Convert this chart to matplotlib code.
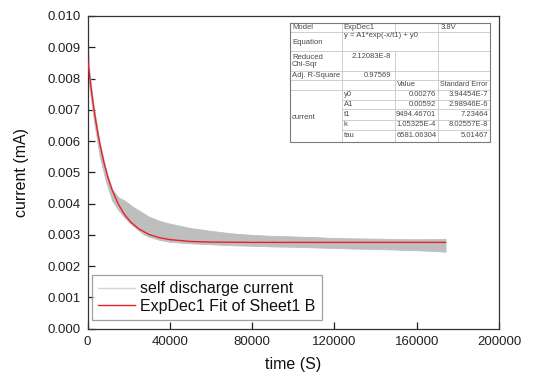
import matplotlib
matplotlib.use("Agg")
import matplotlib.pyplot as plt
from matplotlib.lines import Line2D

plt.rcParams['font.family'] = ['Liberation Sans', 'DejaVu Sans']

# ---- data ----
# measured self-discharge current: band (lower / upper envelope of the noisy trace)
t_data = [0, 500, 1000, 3000, 6000, 9000, 12000, 15000, 18000, 22000, 27000, 30000,
          35000, 40000, 50000, 60000, 70000, 80000, 90000, 100000, 110000, 120000,
          130000, 140000, 150000, 160000, 170000, 174000]
i_low = [0.0086, 0.0080, 0.0077, 0.0067, 0.0055, 0.0047, 0.0041, 0.0038, 0.00355, 0.0033,
         0.00303, 0.00294, 0.00284, 0.00278, 0.00273, 0.00270, 0.00267, 0.00265, 0.00263,
         0.00262, 0.00260, 0.00258, 0.00256, 0.00255, 0.00253, 0.00251, 0.00248, 0.00246]
i_high = [0.0095, 0.0087, 0.0082, 0.00712, 0.00594, 0.00508, 0.00446, 0.0042, 0.0041, 0.0039,
          0.0037, 0.00358, 0.00345, 0.00336, 0.00322, 0.00313, 0.00305, 0.00300, 0.00297,
          0.00295, 0.00293, 0.00290, 0.00289, 0.00288, 0.00287, 0.00286, 0.00287, 0.00287]

# ExpDec1 fit curve
t_fit = [0, 1000, 2000, 3000, 4000, 5000, 6000, 8000, 10000, 12000, 15000, 18000, 21000,
         25000, 30000, 35000, 40000, 50000, 60000, 80000, 100000, 140000, 174000]
i_fit = [0.00866, 0.00809, 0.00756, 0.00708, 0.00665, 0.00626, 0.00591, 0.00531, 0.00482,
         0.00443, 0.00398, 0.00365, 0.00341, 0.00319, 0.00301, 0.00291, 0.00285, 0.00279,
         0.00277, 0.00276, 0.00276, 0.00276, 0.00276]

x_ticks = [0, 40000, 80000, 120000, 160000, 200000]
y_ticks = [0.000, 0.001, 0.002, 0.003, 0.004, 0.005, 0.006, 0.007, 0.008, 0.009, 0.010]

legend_labels = ["self discharge current", "ExpDec1 Fit of Sheet1 B"]

# fit report table
table_rows = [
    ["Model", "ExpDec1", "", "3.8V"],
    ["Equation", "y = A1*exp(-x/t1) + y0", "", ""],
    ["Reduced\nChi-Sqr", "2.12083E-8", "", ""],
    ["Adj. R-Square", "0.97569", "", ""],
    ["", "", "Value", "Standard Error"],
]
param_names = ["y0", "A1", "t1", "k", "tau"]
param_values = ["0.00276", "0.00592", "9494.46701", "1.05325E-4", "6581.06304"]
param_errors = ["3.94454E-7", "2.98946E-6", "7.23464", "8.02557E-8", "5.01467"]
group_label = "current"

# ---- figure ----
W, H = 536, 376
fig = plt.figure(figsize=(W / 100, H / 100), dpi=100)
ax = fig.add_axes([87.5 / W, (H - 328.7) / H, (499 - 87.5) / W, (328.7 - 16) / H])

gray = '#bebebe'
red = '#e8202a'
ax.fill_between(t_data, i_low, i_high, color=gray, lw=0.6, edgecolor=gray, zorder=2)
ax.plot(t_fit, i_fit, color=red, lw=1.0, zorder=3)

ax.set_xlim(0, 200000)
ax.set_ylim(0, 0.010)
ax.set_xticks(x_ticks)
ax.set_xticklabels([str(v) for v in x_ticks])
ax.set_yticks(y_ticks)
ax.set_yticklabels([f"{v:.3f}" for v in y_ticks])
ax.tick_params(direction='in', length=5, width=0.9, labelsize=9.5, colors='#222222',
               pad=5, top=False, right=False)
for s in ax.spines.values():
    s.set_color('#333333')
    s.set_linewidth(0.9)

ax.set_xlabel("time (S)", fontsize=11.5, color='#111111', labelpad=7)
ax.set_ylabel("current (mA)", fontsize=11.5, color='#111111', labelpad=13)

handles = [Line2D([], [], color='#d4d4d4', lw=1.0), Line2D([], [], color=red, lw=1.0)]
leg = ax.legend(handles, legend_labels, loc='lower left', bbox_to_anchor=(0.011, 0.028),
                borderaxespad=0, fontsize=11.5, frameon=True, fancybox=False,
                handlelength=2.3, handletextpad=0.3, labelspacing=0.15, borderpad=0.4)
leg.get_frame().set_edgecolor('#888888')
leg.get_frame().set_linewidth(0.9)
for t in leg.get_texts():
    t.set_color('#111111')

# ---- fit report table (drawn in pixel coordinates) ----
tab = fig.add_axes([0, 0, 1, 1], zorder=5)
tab.set_xlim(0, W)
tab.set_ylim(H, 0)
tab.axis('off')
tab.patch.set_alpha(0)

cx = [290, 341.7, 395, 438.3, 490]
ry = [23.3, 32.3, 50.7, 70.7, 80, 90, 100, 109.3, 120, 130, 141.7]
inner = dict(color='#c8c8c8', lw=0.6)
outer = dict(color='#7a7a7a', lw=0.8)

tab.fill_between([cx[0], cx[-1]], ry[0], ry[-1], color='white', zorder=0)
# horizontal lines
for k, y in enumerate(ry[1:-1], start=1):
    x0 = cx[1] if 6 <= k <= 9 else cx[0]
    tab.plot([x0, cx[-1]], [y, y], **inner)
# vertical lines
tab.plot([cx[1], cx[1]], [ry[0], ry[-1]], **inner)
tab.plot([cx[2], cx[2]], [ry[0], ry[1]], **inner)
tab.plot([cx[2], cx[2]], [ry[2], ry[-1]], **inner)
tab.plot([cx[3], cx[3]], [ry[0], ry[-1]], **inner)
# outer border
tab.plot([cx[0], cx[-1], cx[-1], cx[0], cx[0]], [ry[0], ry[0], ry[-1], ry[-1], ry[0]], **outer)

fs = 5.5
tc = '#4a4a4a'
pad = 2.0
# top block
tab.text(cx[0] + pad, (ry[0] + ry[1]) / 2, table_rows[0][0], fontsize=fs, color=tc, va='center')
tab.text(cx[1] + pad, (ry[0] + ry[1]) / 2, table_rows[0][1], fontsize=fs, color=tc, va='center')
tab.text(cx[3] + pad, (ry[0] + ry[1]) / 2, table_rows[0][3], fontsize=fs, color=tc, va='center')
tab.text(cx[0] + pad, (ry[1] + ry[2]) / 2 + 1.5, table_rows[1][0], fontsize=fs, color=tc, va='center')
tab.text(cx[1] + pad, ry[1] + 3.5, table_rows[1][1], fontsize=fs, color=tc, va='center')
tab.text(cx[0] + pad, (ry[2] + ry[3]) / 2, table_rows[2][0], fontsize=fs, color=tc, va='center',
         linespacing=1.0)
tab.text(cx[2] - pad - 2, ry[2] + 5.3, table_rows[2][1], fontsize=fs, color=tc, va='center', ha='right')
tab.text(cx[0] + pad, (ry[3] + ry[4]) / 2, table_rows[3][0], fontsize=fs, color=tc, va='center')
tab.text(cx[2] - pad - 2, (ry[3] + ry[4]) / 2, table_rows[3][1], fontsize=fs, color=tc,
         va='center', ha='right')
tab.text(cx[2] + pad, (ry[4] + ry[5]) / 2, table_rows[4][2], fontsize=fs, color=tc, va='center')
tab.text(cx[3] + 1.2, (ry[4] + ry[5]) / 2, table_rows[4][3], fontsize=5.2, color=tc, va='center')
# parameter block
for j, (n, v, e) in enumerate(zip(param_names, param_values, param_errors)):
    yc = (ry[5 + j] + ry[6 + j]) / 2
    tab.text(cx[1] + pad, yc, n, fontsize=fs, color=tc, va='center')
    tab.text(cx[3] - pad, yc, v, fontsize=fs, color=tc, va='center', ha='right')
    tab.text(cx[4] - pad, yc, e, fontsize=fs, color=tc, va='center', ha='right')
tab.text(cx[0] + pad, (ry[5] + ry[-1]) / 2 + 1.5, group_label, fontsize=fs, color=tc, va='center')

fig.savefig("out.png", dpi=100)
